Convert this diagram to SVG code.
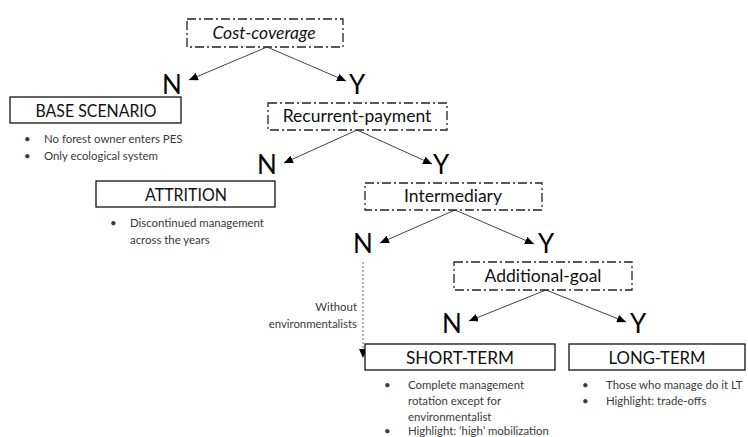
<svg xmlns="http://www.w3.org/2000/svg" width="748" height="437" viewBox="0 0 748 437">
<style>
.dd{fill:#fff;stroke:#222;stroke-width:1.3;stroke-dasharray:9 3 2 3}
.sb{fill:#fff;stroke:#111;stroke-width:1.3}
.lbl{font-family:Lato,"Liberation Sans",sans-serif;font-size:17.5px;fill:#111;text-anchor:middle}
.big{font-family:Lato,"Liberation Sans",sans-serif;font-size:17.5px;fill:#111;text-anchor:middle}
.ny{font-family:Lato,"Liberation Sans",sans-serif;font-size:26px;fill:#000;text-anchor:middle}
.sm{font-family:Lato,"Liberation Sans",sans-serif;font-size:11.4px;fill:#3a3a3a}
.con{stroke:#444;stroke-width:1;fill:none;marker-end:url(#ah)}
.dot{stroke:#666;stroke-width:1;fill:none;stroke-dasharray:2 2;marker-end:url(#ah)}
</style>
<defs>
<marker id="ah" markerUnits="userSpaceOnUse" markerWidth="10" markerHeight="8" refX="9" refY="4" orient="auto">
<path d="M0,0 L9,4 L0,8 Z" fill="#000"/>
</marker>
</defs>
<g id="connectors">
<line class="con" x1="267" y1="47" x2="189" y2="80"/>
<line class="con" x1="267" y1="47" x2="346" y2="81"/>
<line class="con" x1="357" y1="130" x2="284" y2="163"/>
<line class="con" x1="357" y1="130" x2="432" y2="164"/>
<line class="con" x1="455" y1="210" x2="380" y2="243"/>
<line class="con" x1="455" y1="210" x2="534" y2="244"/>
<line class="con" x1="546" y1="290" x2="469" y2="321"/>
<line class="con" x1="546" y1="290" x2="626" y2="322"/>
<line class="dot" x1="363" y1="262" x2="363" y2="358"/>
<text class="sm" x="357" y="311" text-anchor="end">Without</text>
<text class="sm" x="357" y="328" text-anchor="end">environmentalists</text>
</g>
<g id="cost-coverage">
<rect class="dd" x="187" y="19" width="156" height="28"/>
<text class="lbl" x="264" y="39" font-style="italic">Cost-coverage</text>
</g>
<g id="n1"><text class="ny" x="172" y="94">N</text></g>
<g id="y1"><text class="ny" x="357" y="94">Y</text></g>
<g id="base-scenario">
<rect class="sb" x="10" y="97" width="171" height="26"/>
<text class="big" x="96" y="117" textLength="121" lengthAdjust="spacingAndGlyphs">BASE SCENARIO</text>
<text class="sm" x="24" y="143">•</text>
<text class="sm" x="44" y="143">No forest owner enters PES</text>
<text class="sm" x="24" y="160">•</text>
<text class="sm" x="44" y="160">Only ecological system</text>
</g>
<g id="recurrent-payment">
<rect class="dd" x="268" y="103" width="179" height="27"/>
<text class="lbl" x="357" y="122">Recurrent-payment</text>
</g>
<g id="n2"><text class="ny" x="267" y="174">N</text></g>
<g id="y2"><text class="ny" x="441" y="174">Y</text></g>
<g id="attrition">
<rect class="sb" x="96" y="181" width="179" height="26"/>
<text class="big" x="186" y="201" textLength="82" lengthAdjust="spacingAndGlyphs">ATTRITION</text>
<text class="sm" x="110" y="227">•</text>
<text class="sm" x="130" y="227">Discontinued management</text>
<text class="sm" x="130" y="244">across the years</text>
</g>
<g id="intermediary">
<rect class="dd" x="365" y="183" width="177" height="27"/>
<text class="lbl" x="453" y="202">Intermediary</text>
</g>
<g id="n3"><text class="ny" x="363" y="253">N</text></g>
<g id="y3"><text class="ny" x="546" y="253">Y</text></g>
<g id="additional-goal">
<rect class="dd" x="454" y="262" width="178" height="28"/>
<text class="lbl" x="543" y="282">Additional-goal</text>
</g>
<g id="n4"><text class="ny" x="452" y="333">N</text></g>
<g id="y4"><text class="ny" x="638" y="333">Y</text></g>
<g id="short-term">
<rect class="sb" x="365" y="344" width="190" height="26"/>
<text class="big" x="460" y="364" textLength="108" lengthAdjust="spacingAndGlyphs">SHORT-TERM</text>
<text class="sm" x="384" y="389">•</text>
<text class="sm" x="408" y="389">Complete management</text>
<text class="sm" x="408" y="405">rotation except for</text>
<text class="sm" x="408" y="421">environmentalist</text>
<text class="sm" x="384" y="435">•</text>
<text class="sm" x="408" y="435">Highlight: ‘high’ mobilization</text>
</g>
<g id="long-term">
<rect class="sb" x="569" y="344" width="176" height="26"/>
<text class="big" x="657" y="364" textLength="97" lengthAdjust="spacingAndGlyphs">LONG-TERM</text>
<text class="sm" x="582" y="389">•</text>
<text class="sm" x="606" y="389">Those who manage do it LT</text>
<text class="sm" x="582" y="405">•</text>
<text class="sm" x="606" y="405">Highlight: trade-offs</text>
</g>
</svg>
